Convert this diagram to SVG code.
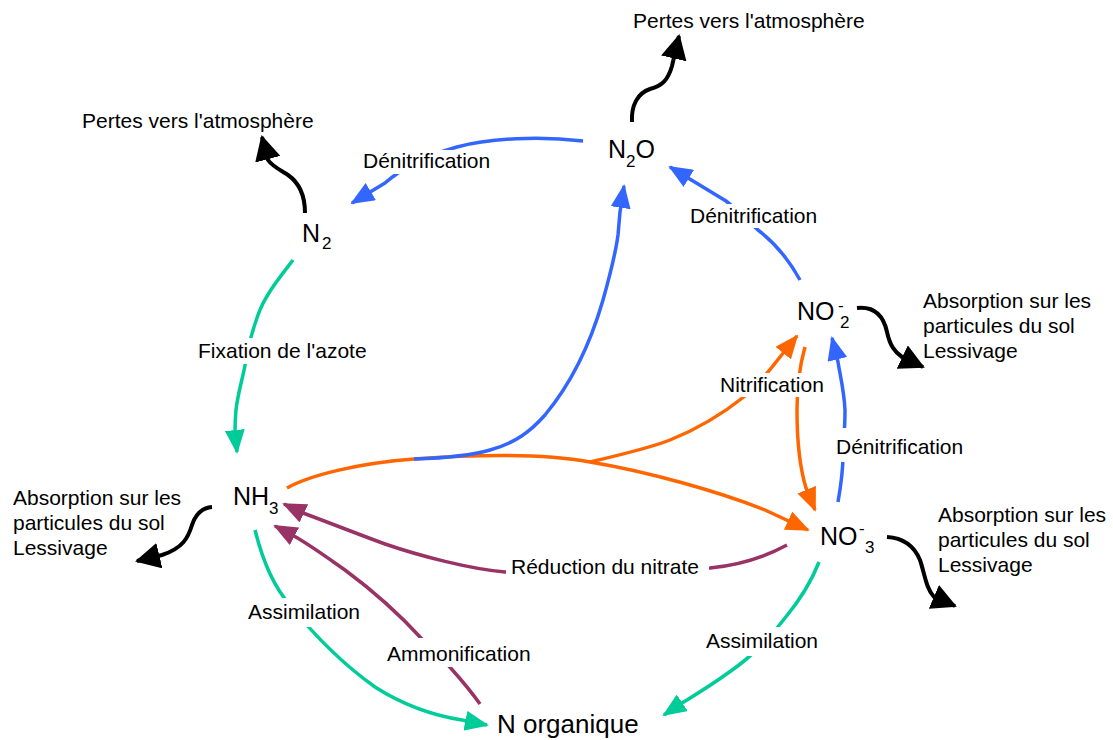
<svg xmlns="http://www.w3.org/2000/svg" width="1113" height="740" viewBox="0 0 1113 740">
<style>
text{font-family:"Liberation Sans",Arial,sans-serif;fill:#000}
.lbl{font-size:21px}
.node{font-size:25px}
.sm{font-size:17px}
.c{fill:none;stroke-width:3.5;stroke-linecap:butt;stroke-linejoin:round}
.blue{stroke:#3366ff;marker-end:url(#mb)}
.orange{stroke:#ff6600;marker-end:url(#mo)}
.green{stroke:#00cc99;marker-end:url(#mg)}
.purple{stroke:#993366;marker-end:url(#mp)}
.black{stroke:#000;stroke-width:4;marker-end:url(#mk)}
.bg{fill:#fff}
</style>
<defs>
<marker id="mb" markerUnits="userSpaceOnUse" markerWidth="24" markerHeight="20" refX="22" refY="10" orient="auto"><path d="M0,0 L24,10 L0,20 z" fill="#3366ff"/></marker>
<marker id="mo" markerUnits="userSpaceOnUse" markerWidth="24" markerHeight="20" refX="22" refY="10" orient="auto"><path d="M0,0 L24,10 L0,20 z" fill="#ff6600"/></marker>
<marker id="mg" markerUnits="userSpaceOnUse" markerWidth="24" markerHeight="20" refX="22" refY="10" orient="auto"><path d="M0,0 L24,10 L0,20 z" fill="#00cc99"/></marker>
<marker id="mp" markerUnits="userSpaceOnUse" markerWidth="24" markerHeight="20" refX="22" refY="10" orient="auto"><path d="M0,0 L24,10 L0,20 z" fill="#993366"/></marker>
<marker id="mk" markerUnits="userSpaceOnUse" markerWidth="25" markerHeight="26" refX="23" refY="13" orient="auto"><path d="M0,0 L25,13 L0,26 z" fill="#000"/></marker>
</defs>
<rect width="1113" height="740" fill="#fff"/>
<g id="connectors">
<path class="c blue" d="M583,141 C540,136 490,138 457,147 C425,156 400,170 385,183 L352,203"/>
<path class="c orange" d="M287,488 C310,475 360,463 414,459 C470,455 540,453 590,462 C650,472 720,492 765,510 L808,530"/>
<path class="c blue" d="M414,459 C445,458 470,456 490,450 C515,443 530,432 545,415 C570,385 590,345 603,300 C612,268 616,250 618,235 L620,212 L624,186"/>
<path class="c blue" d="M800,280 C790,262 778,245 758,230 C745,218 735,208 726,201 L670,167"/>
<path class="c blue" d="M838,502 C841,485 843,470 843,455 C844,440 845,425 845,410 C844,390 840,375 838,362 L832,338"/>
<path class="c orange" d="M590,462 C620,455 650,448 670,440 C700,428 725,412 745,396 C760,383 770,370 780,357 L797,336"/>
<path class="c orange" d="M805,347 C799,368 797,390 797,410 C797,440 799,465 806,488 L815,510"/>
<path class="c green" d="M293,260 C280,277 265,295 258,315 C252,332 248,345 246,360 C243,378 238,392 236,410 C235,420 235,428 235,432 L237,452"/>
<path class="c green" d="M255,530 C262,558 272,585 290,605 C310,630 340,662 375,687 C400,703 430,715 462,720 L487,725"/>
<path class="c green" d="M819,562 C812,580 800,600 785,618 C770,638 750,658 728,673 C710,686 695,695 682,703 L664,715"/>
<path class="c purple" d="M787,545 C765,557 740,565 710,568 L505,572 C470,569 420,556 385,544 C355,533 330,523 303,513 L284,504"/>
<path class="c purple" d="M480,704 C465,683 440,655 421,638 C400,615 380,596 345,570 C325,556 310,545 294,536 L275,526"/>
<path class="c black" d="M632,122 C631,105 638,93 650,89 C662,86 668,80 672,66 L679,36"/>
<path class="c black" d="M305,213 C305,195 298,182 288,175 C280,170 272,166 268,160 L262,137"/>
<path class="c black" d="M857,308 C876,306 884,318 887,332 C890,346 895,352 902,357 L923,367"/>
<path class="c black" d="M887,537 C905,538 915,548 920,560 C925,575 926,588 934,597 L955,606"/>
<path class="c black" d="M212,507 C200,508 195,516 192,525 C188,538 183,548 162,555 L137,561"/>
</g>
<g id="labels">
<rect class="bg" x="360" y="150" width="136" height="24"/>
<text class="lbl" x="363" y="168">Dénitrification</text>
<rect class="bg" x="687" y="204" width="136" height="24"/>
<text class="lbl" x="690" y="223">Dénitrification</text>
<rect class="bg" x="195" y="338" width="182" height="26"/>
<text class="lbl" x="198" y="358">Fixation de l'azote</text>
<rect class="bg" x="717" y="373" width="114" height="24"/>
<text class="lbl" x="720" y="392">Nitrification</text>
<rect class="bg" x="832" y="428" width="136" height="34"/>
<text class="lbl" x="836" y="454">Dénitrification</text>
<rect class="bg" x="506" y="553" width="203" height="27"/>
<text class="lbl" x="511" y="574">Réduction du nitrate</text>
<rect class="bg" x="245" y="598" width="119" height="29"/>
<text class="lbl" x="248" y="619">Assimilation</text>
<rect class="bg" x="384" y="638" width="152" height="29"/>
<text class="lbl" x="387" y="661">Ammonification</text>
<rect class="bg" x="703" y="627" width="119" height="29"/>
<text class="lbl" x="706" y="648">Assimilation</text>
<text class="lbl" x="633" y="28">Pertes vers l'atmosphère</text>
<text class="lbl" x="82" y="128">Pertes vers l'atmosphère</text>
<text class="lbl" x="923" y="308">Absorption sur les</text>
<text class="lbl" x="923" y="333">particules du sol</text>
<text class="lbl" x="923" y="358">Lessivage</text>
<text class="lbl" x="938" y="522">Absorption sur les</text>
<text class="lbl" x="938" y="547">particules du sol</text>
<text class="lbl" x="938" y="572">Lessivage</text>
<text class="lbl" x="13" y="505">Absorption sur les</text>
<text class="lbl" x="13" y="530">particules du sol</text>
<text class="lbl" x="13" y="555">Lessivage</text>
</g>
<g id="node-n2o"><text class="node" x="608" y="158">N<tspan class="sm" dy="9">2</tspan><tspan dy="-9">O</tspan></text></g>
<g id="node-n2"><text class="node" x="302" y="242">N<tspan class="sm" dx="2" dy="7">2</tspan></text></g>
<g id="node-no2"><text class="node" x="797" y="320">NO</text><text class="sm" x="838" y="311">-</text><text class="sm" x="840" y="328">2</text></g>
<g id="node-no3"><text class="node" x="820" y="545">NO</text><text class="sm" x="859" y="534">-</text><text class="sm" x="865" y="553">3</text></g>
<g id="node-nh3"><text class="node" x="233" y="505">NH<tspan class="sm" dy="9">3</tspan></text></g>
<g id="node-norg"><text class="node" x="497" y="733" style="font-size:26px">N organique</text></g>
</svg>
